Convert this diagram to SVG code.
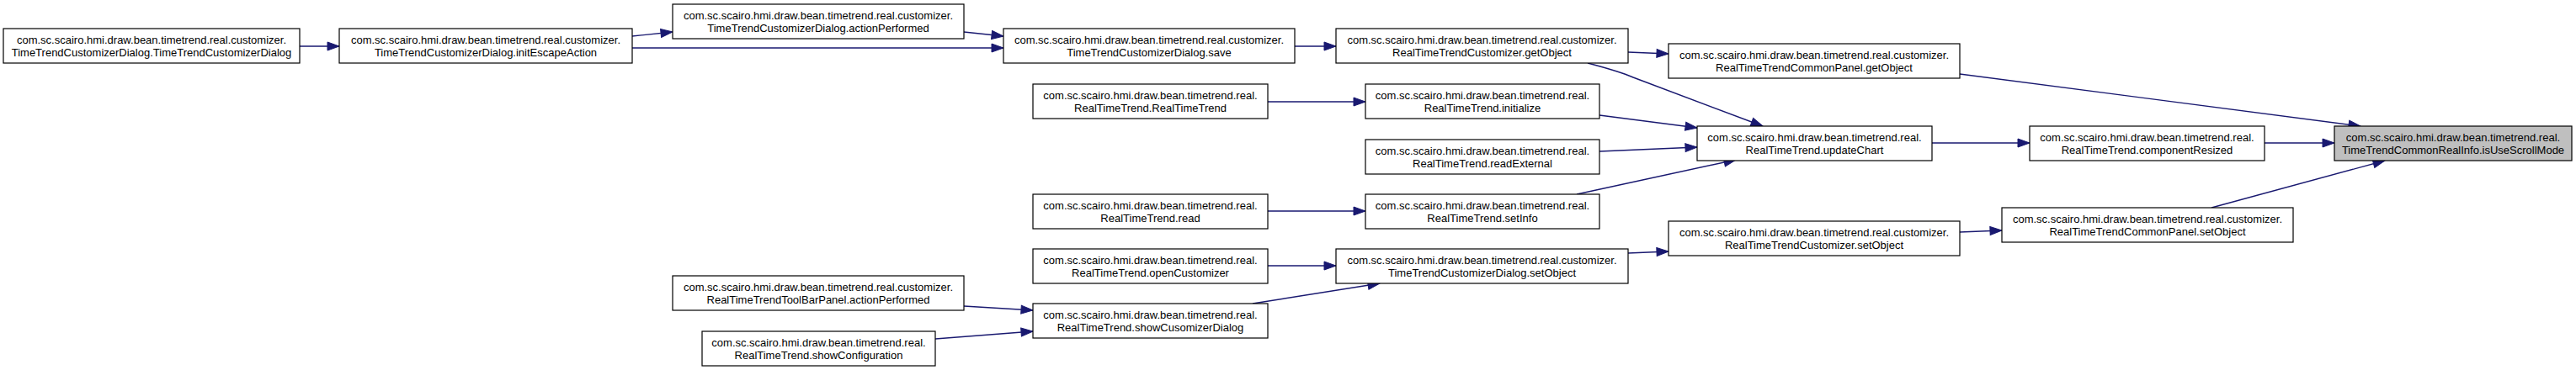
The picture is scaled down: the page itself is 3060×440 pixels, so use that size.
<svg xmlns="http://www.w3.org/2000/svg" width="3060" height="440" viewBox="0 0 3060 440">
<style>
.n rect{fill:#ffffff;stroke:#000000;stroke-width:1.2}
.n.root rect{fill:#bfbfbf}
.n text{font-family:"Liberation Sans",Arial,Helvetica,sans-serif;font-size:13px;fill:#000000;text-anchor:middle}
.e path{fill:none;stroke:#191970;stroke-width:1.4;marker-end:url(#ah)}
</style>
<defs>
<marker id="ah" markerUnits="userSpaceOnUse" markerWidth="15" markerHeight="11" refX="14" refY="5" orient="auto" overflow="visible">
<path d="M0,0 L14,5 L0,10 Z" fill="#191970" stroke="#191970" stroke-width="1"/>
</marker>
</defs>
<rect x="0" y="0" width="3060" height="440" fill="#ffffff"/>
<g id="edges" class="e">
<path d="M356,55 L403,55"/>
<path d="M751,43 L799,38"/>
<path d="M751,57 L1192,57"/>
<path d="M1145,38 L1192,43"/>
<path d="M1538,55 L1587,55"/>
<path d="M1934,62 L1982,64"/>
<path d="M1886,75 C1905,80 1924,85 1940,92 L2094,150"/>
<path d="M2328,88 L2804,150"/>
<path d="M1506,121 L1622,121"/>
<path d="M1900,137 L2016,152"/>
<path d="M1900,180 L2016,175"/>
<path d="M1506,251 L1622,251"/>
<path d="M1873,231 L2062,190"/>
<path d="M2295,170 L2411,170"/>
<path d="M2690,170 L2773,170"/>
<path d="M2627,247 L2833,191"/>
<path d="M2328,276 L2378,274"/>
<path d="M1934,301 L1982,299"/>
<path d="M1506,316 L1587,316"/>
<path d="M1488,361 L1639,337"/>
<path d="M1145,364 L1227,369"/>
<path d="M1111,403 L1227,394"/>
</g>
<g id="nodeA" class="n"><rect x="4" y="34" width="352" height="41"/><text x="180" y="52">com.sc.scairo.hmi.draw.bean.timetrend.real.customizer.</text><text x="180" y="67">TimeTrendCustomizerDialog.TimeTrendCustomizerDialog</text></g>
<g id="nodeB" class="n"><rect x="403" y="34" width="348" height="41"/><text x="577" y="52">com.sc.scairo.hmi.draw.bean.timetrend.real.customizer.</text><text x="577" y="67">TimeTrendCustomizerDialog.initEscapeAction</text></g>
<g id="nodeC" class="n"><rect x="799" y="5" width="346" height="41"/><text x="972" y="23">com.sc.scairo.hmi.draw.bean.timetrend.real.customizer.</text><text x="972" y="38">TimeTrendCustomizerDialog.actionPerformed</text></g>
<g id="nodeD" class="n"><rect x="1192" y="34" width="346" height="41"/><text x="1365" y="52">com.sc.scairo.hmi.draw.bean.timetrend.real.customizer.</text><text x="1365" y="67">TimeTrendCustomizerDialog.save</text></g>
<g id="nodeE" class="n"><rect x="1227" y="100" width="279" height="41"/><text x="1366.5" y="118">com.sc.scairo.hmi.draw.bean.timetrend.real.</text><text x="1366.5" y="133">RealTimeTrend.RealTimeTrend</text></g>
<g id="nodeF" class="n"><rect x="1587" y="34" width="347" height="41"/><text x="1760.5" y="52">com.sc.scairo.hmi.draw.bean.timetrend.real.customizer.</text><text x="1760.5" y="67">RealTimeTrendCustomizer.getObject</text></g>
<g id="nodeG" class="n"><rect x="1982" y="52" width="346" height="41"/><text x="2155" y="70">com.sc.scairo.hmi.draw.bean.timetrend.real.customizer.</text><text x="2155" y="85">RealTimeTrendCommonPanel.getObject</text></g>
<g id="nodeH" class="n"><rect x="1622" y="100" width="278" height="41"/><text x="1761" y="118">com.sc.scairo.hmi.draw.bean.timetrend.real.</text><text x="1761" y="133">RealTimeTrend.initialize</text></g>
<g id="nodeI" class="n"><rect x="2016" y="150" width="279" height="41"/><text x="2155.5" y="168">com.sc.scairo.hmi.draw.bean.timetrend.real.</text><text x="2155.5" y="183">RealTimeTrend.updateChart</text></g>
<g id="nodeJ" class="n"><rect x="1622" y="166" width="278" height="41"/><text x="1761" y="184">com.sc.scairo.hmi.draw.bean.timetrend.real.</text><text x="1761" y="199">RealTimeTrend.readExternal</text></g>
<g id="nodeK" class="n"><rect x="1227" y="231" width="279" height="41"/><text x="1366.5" y="249">com.sc.scairo.hmi.draw.bean.timetrend.real.</text><text x="1366.5" y="264">RealTimeTrend.read</text></g>
<g id="nodeL" class="n"><rect x="1622" y="231" width="278" height="41"/><text x="1761" y="249">com.sc.scairo.hmi.draw.bean.timetrend.real.</text><text x="1761" y="264">RealTimeTrend.setInfo</text></g>
<g id="nodeM" class="n"><rect x="2411" y="150" width="279" height="41"/><text x="2550.5" y="168">com.sc.scairo.hmi.draw.bean.timetrend.real.</text><text x="2550.5" y="183">RealTimeTrend.componentResized</text></g>
<g id="nodeN" class="n root"><rect x="2773" y="150" width="282" height="41"/><text x="2914" y="168">com.sc.scairo.hmi.draw.bean.timetrend.real.</text><text x="2914" y="183">TimeTrendCommonRealInfo.isUseScrollMode</text></g>
<g id="nodeO" class="n"><rect x="2378" y="247" width="346" height="41"/><text x="2551" y="265">com.sc.scairo.hmi.draw.bean.timetrend.real.customizer.</text><text x="2551" y="280">RealTimeTrendCommonPanel.setObject</text></g>
<g id="nodeP" class="n"><rect x="1982" y="263" width="346" height="41"/><text x="2155" y="281">com.sc.scairo.hmi.draw.bean.timetrend.real.customizer.</text><text x="2155" y="296">RealTimeTrendCustomizer.setObject</text></g>
<g id="nodeQ" class="n"><rect x="1227" y="296" width="279" height="41"/><text x="1366.5" y="314">com.sc.scairo.hmi.draw.bean.timetrend.real.</text><text x="1366.5" y="329">RealTimeTrend.openCustomizer</text></g>
<g id="nodeR" class="n"><rect x="1587" y="296" width="347" height="41"/><text x="1760.5" y="314">com.sc.scairo.hmi.draw.bean.timetrend.real.customizer.</text><text x="1760.5" y="329">TimeTrendCustomizerDialog.setObject</text></g>
<g id="nodeS" class="n"><rect x="799" y="328" width="346" height="41"/><text x="972" y="346">com.sc.scairo.hmi.draw.bean.timetrend.real.customizer.</text><text x="972" y="361">RealTimeTrendToolBarPanel.actionPerformed</text></g>
<g id="nodeT" class="n"><rect x="1227" y="361" width="279" height="41"/><text x="1366.5" y="379">com.sc.scairo.hmi.draw.bean.timetrend.real.</text><text x="1366.5" y="394">RealTimeTrend.showCusomizerDialog</text></g>
<g id="nodeU" class="n"><rect x="834" y="394" width="277" height="41"/><text x="972.5" y="412">com.sc.scairo.hmi.draw.bean.timetrend.real.</text><text x="972.5" y="427">RealTimeTrend.showConfiguration</text></g>
</svg>
